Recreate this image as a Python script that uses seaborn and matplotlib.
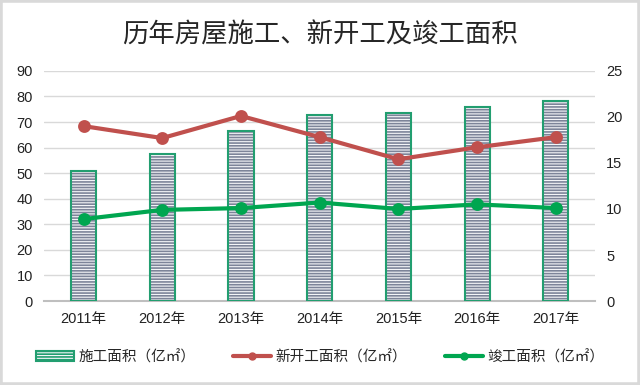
import matplotlib.pyplot as plt
import seaborn as sns
from matplotlib.patches import Rectangle, Patch
from matplotlib.lines import Line2D

years = ["2011年", "2012年", "2013年", "2014年", "2015年", "2016年", "2017年"]
construction = [50.8, 57.3, 66.6, 72.6, 73.6, 75.9, 78.2]   # left axis
new_starts = [19.0, 17.7, 20.1, 17.8, 15.4, 16.7, 17.8]      # right axis
completed = [8.9, 9.9, 10.1, 10.7, 10.0, 10.5, 10.1]         # right axis

title = "历年房屋施工、新开工及竣工面积"
labels = ["施工面积（亿㎡）", "新开工面积（亿㎡）", "竣工面积（亿㎡）"]

red = "#c0504d"
green = "#00a650"
bar_edge = "#229e70"
stripe = "#7d8499"

sns.set_style("white")
plt.rcParams["font.family"] = ["Liberation Sans", "Noto Sans CJK SC"]
plt.rcParams["hatch.linewidth"] = 1.2

fig = plt.figure(figsize=(6.4, 3.85), dpi=100)
ax = fig.add_axes([0.069, 0.218, 0.861, 0.598])

sns.barplot(x=years, y=construction, ax=ax, color="#f4f5f8", saturation=1,
            width=0.32, hatch="------", edgecolor=stripe, linewidth=0, zorder=2)
for p in list(ax.patches):
    ax.add_patch(Rectangle(p.get_xy(), p.get_width(), p.get_height(),
                           fill=False, edgecolor=bar_edge, lw=1.5, zorder=3))

ax.set_ylim(0, 90)
ax.set_yticks(range(0, 91, 10))
ax.grid(axis="y", color="#d9d9d9", lw=1)
ax.set_axisbelow(True)
for s in ["top", "left", "right"]:
    ax.spines[s].set_visible(False)
ax.spines["bottom"].set_color("#bfbfbf")
ax.spines["bottom"].set_linewidth(1.5)
ax.tick_params(length=0, labelsize=10.5, colors="#222222", pad=8)
ax.set_xlabel("")

ax2 = ax.twinx()
sns.pointplot(x=years, y=new_starts, ax=ax2, color=red, markersize=7, linewidth=3)
sns.pointplot(x=years, y=completed, ax=ax2, color=green, markersize=7, linewidth=3)
ax2.set_ylim(0, 25)
ax2.set_yticks(range(0, 26, 5))
for s in ax2.spines.values():
    s.set_visible(False)
ax2.tick_params(length=0, labelsize=10.5, colors="#222222", pad=8)
ax2.set_ylabel("")
ax.set_xlim(-0.5, 6.5)

fig.suptitle(title, y=0.945, fontsize=19, family=["Noto Sans CJK SC"],
             fontweight="medium")

handles = [
    Patch(facecolor="#f4f5f8", edgecolor=bar_edge, hatch="------", lw=1.5),
    Line2D([], [], color=red, lw=3, marker="o", markersize=5),
    Line2D([], [], color=green, lw=3, marker="o", markersize=5),
]
fig.legend(handles, labels, loc="center", bbox_to_anchor=(0.5, 0.072), ncol=3,
           frameon=False, fontsize=10.5, handlelength=2.6, columnspacing=2.6,
           handletextpad=0.3)

fig.add_artist(Rectangle((0, 0), 1, 1, transform=fig.transFigure, fill=False,
                         edgecolor="#d9d9d9", lw=4))

fig.savefig("out.png", dpi=100)
